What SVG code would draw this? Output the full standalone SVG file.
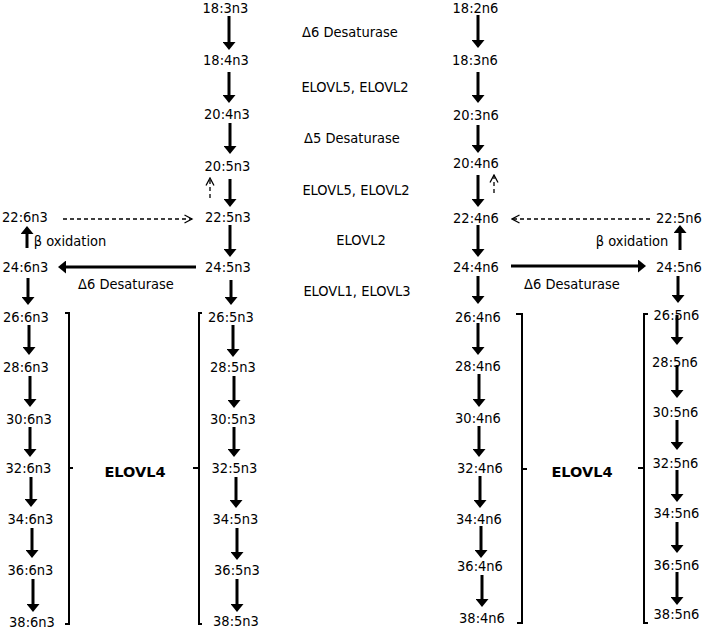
<svg xmlns="http://www.w3.org/2000/svg" width="703" height="631" viewBox="0 0 703 631">
<style>
text{font-family:"DejaVu Sans Condensed","DejaVu Sans",Verdana,sans-serif;font-stretch:condensed;font-size:14.5px;fill:#000;text-anchor:middle}
.b{font-family:"DejaVu Sans",Verdana,sans-serif;font-stretch:normal;font-weight:bold;font-size:14.5px}
.a{stroke:#000;stroke-width:3;fill:none;marker-end:url(#ah)}
.d{stroke:#000;stroke-width:1.3;stroke-dasharray:4 3;fill:none;marker-end:url(#oh)}
.br{stroke:#000;stroke-width:2;fill:none}
</style>
<defs>
<marker id="ah" markerUnits="userSpaceOnUse" viewBox="0 0 8 13" markerWidth="8" markerHeight="13" refX="1" refY="6.5" orient="auto"><path d="M0,0 L8,6.5 L0,13 z" fill="#000"/></marker>
<marker id="oh" markerUnits="userSpaceOnUse" viewBox="0 0 10 10" markerWidth="10" markerHeight="10" refX="8.5" refY="5" orient="auto"><path d="M1,1 L8.5,5 L1,9" fill="none" stroke="#000" stroke-width="1.3"/></marker>
</defs>
<g id="connectors">
<line class="a" x1="229" y1="16" x2="229" y2="43"/>
<line class="a" x1="229" y1="72" x2="229" y2="96"/>
<line class="a" x1="230" y1="123" x2="230" y2="147"/>
<line class="a" x1="230" y1="179" x2="230" y2="200"/>
<line class="a" x1="230" y1="225" x2="230" y2="250"/>
<line class="a" x1="231" y1="280" x2="231" y2="298"/>
<line class="a" x1="233" y1="325" x2="233" y2="350"/>
<line class="a" x1="234" y1="376" x2="234" y2="401"/>
<line class="a" x1="234" y1="427" x2="234" y2="450"/>
<line class="a" x1="236" y1="477" x2="236" y2="501"/>
<line class="a" x1="237" y1="528" x2="237" y2="553"/>
<line class="a" x1="237" y1="579" x2="237" y2="605"/>
<line class="a" x1="478" y1="15" x2="478" y2="41"/>
<line class="a" x1="478" y1="72" x2="478" y2="96"/>
<line class="a" x1="478" y1="125" x2="478" y2="146"/>
<line class="a" x1="478" y1="175" x2="478" y2="200"/>
<line class="a" x1="478" y1="225" x2="478" y2="250"/>
<line class="a" x1="478" y1="276" x2="478" y2="297"/>
<line class="a" x1="478" y1="323" x2="478" y2="348"/>
<line class="a" x1="479" y1="374" x2="479" y2="400"/>
<line class="a" x1="479" y1="426" x2="479" y2="450"/>
<line class="a" x1="480" y1="476" x2="480" y2="501"/>
<line class="a" x1="481" y1="526" x2="481" y2="551"/>
<line class="a" x1="482" y1="575" x2="482" y2="600"/>
<line class="a" x1="27" y1="248" x2="27" y2="233"/>
<line class="a" x1="28" y1="278" x2="28" y2="298"/>
<line class="a" x1="29" y1="325" x2="29" y2="348"/>
<line class="a" x1="30" y1="376" x2="30" y2="400"/>
<line class="a" x1="30" y1="427" x2="30" y2="450"/>
<line class="a" x1="31" y1="477" x2="31" y2="500"/>
<line class="a" x1="32" y1="528" x2="32" y2="551"/>
<line class="a" x1="33" y1="579" x2="33" y2="605"/>
<line class="a" x1="680" y1="250" x2="680" y2="232"/>
<line class="a" x1="678" y1="276" x2="678" y2="296"/>
<line class="a" x1="677" y1="315" x2="677" y2="338"/>
<line class="a" x1="677" y1="365" x2="677" y2="391"/>
<line class="a" x1="677" y1="420" x2="677" y2="443"/>
<line class="a" x1="677" y1="470" x2="677" y2="495"/>
<line class="a" x1="677" y1="522" x2="677" y2="546"/>
<line class="a" x1="677" y1="572" x2="677" y2="598"/>
<line class="a" x1="196" y1="267" x2="65" y2="267"/>
<line class="a" x1="511" y1="266" x2="639" y2="266"/>
<line class="d" x1="63" y1="219" x2="192" y2="219"/>
<line class="d" x1="650" y1="219" x2="512" y2="219"/>
<line class="d" x1="210" y1="198" x2="210" y2="178"/>
<line class="d" x1="494" y1="193" x2="494" y2="175"/>
<path class="br" d="M65,313 H69 V624 H65 M69,468 H73"/>
<path class="br" d="M202,313 H199 V624 H202 M199,468 H193"/>
<path class="br" d="M516,314 H522 V623 H517 M522,469 H527"/>
<path class="br" d="M648,314 H644 V623 H648 M644,468 H638"/>
</g>
<g id="labels">
<text x="350" y="37">Δ6 Desaturase</text>
<text x="355" y="92">ELOVL5, ELOVL2</text>
<text x="352" y="143">Δ5 Desaturase</text>
<text x="356" y="195">ELOVL5, ELOVL2</text>
<text x="361" y="245">ELOVL2</text>
<text x="357" y="296">ELOVL1, ELOVL3</text>
<text x="126" y="289">Δ6 Desaturase</text>
<text x="572" y="289">Δ6 Desaturase</text>
<text x="70" y="246">β oxidation</text>
<text x="632" y="246">β oxidation</text>
<text class="b" x="135" y="477">ELOVL4</text>
<text class="b" x="582" y="477">ELOVL4</text>
</g>
<g id="n3main">
<g id="n18_3n3"><text x="225.5" y="13">18:3n3</text></g>
<g id="n18_4n3"><text x="226" y="65">18:4n3</text></g>
<g id="n20_4n3"><text x="227" y="119">20:4n3</text></g>
<g id="n20_5n3"><text x="227.5" y="171">20:5n3</text></g>
<g id="n22_5n3"><text x="228" y="222">22:5n3</text></g>
<g id="n24_5n3"><text x="228" y="272">24:5n3</text></g>
<g id="n26_5n3"><text x="231" y="322">26:5n3</text></g>
<g id="n28_5n3"><text x="233" y="372">28:5n3</text></g>
<g id="n30_5n3"><text x="233" y="424">30:5n3</text></g>
<g id="n32_5n3"><text x="234.5" y="473">32:5n3</text></g>
<g id="n34_5n3"><text x="235.5" y="524">34:5n3</text></g>
<g id="n36_5n3"><text x="237" y="575">36:5n3</text></g>
<g id="n38_5n3"><text x="236" y="626">38:5n3</text></g>
</g>
<g id="n6main">
<g id="n18_2n6"><text x="475.5" y="13">18:2n6</text></g>
<g id="n18_3n6"><text x="475" y="65">18:3n6</text></g>
<g id="n20_3n6"><text x="476" y="120">20:3n6</text></g>
<g id="n20_4n6"><text x="476" y="168">20:4n6</text></g>
<g id="n22_4n6"><text x="476" y="223">22:4n6</text></g>
<g id="n24_4n6"><text x="476" y="272">24:4n6</text></g>
<g id="n26_4n6"><text x="478" y="322">26:4n6</text></g>
<g id="n28_4n6"><text x="478" y="371">28:4n6</text></g>
<g id="n30_4n6"><text x="478" y="423">30:4n6</text></g>
<g id="n32_4n6"><text x="480" y="473">32:4n6</text></g>
<g id="n34_4n6"><text x="479" y="524">34:4n6</text></g>
<g id="n36_4n6"><text x="480" y="571">36:4n6</text></g>
<g id="n38_4n6"><text x="482" y="623">38:4n6</text></g>
</g>
<g id="n3side">
<g id="n22_6n3"><text x="25" y="222">22:6n3</text></g>
<g id="n24_6n3"><text x="25.5" y="272">24:6n3</text></g>
<g id="n26_6n3"><text x="26" y="322">26:6n3</text></g>
<g id="n28_6n3"><text x="26" y="372">28:6n3</text></g>
<g id="n30_6n3"><text x="29" y="424">30:6n3</text></g>
<g id="n32_6n3"><text x="28.5" y="473">32:6n3</text></g>
<g id="n34_6n3"><text x="30.5" y="524">34:6n3</text></g>
<g id="n36_6n3"><text x="30.5" y="575">36:6n3</text></g>
<g id="n38_6n3"><text x="32" y="627">38:6n3</text></g>
</g>
<g id="n6side">
<g id="n22_5n6"><text x="679" y="223">22:5n6</text></g>
<g id="n24_5n6"><text x="679" y="272">24:5n6</text></g>
<g id="n26_5n6"><text x="676.5" y="320">26:5n6</text></g>
<g id="n28_5n6"><text x="675" y="367">28:5n6</text></g>
<g id="n30_5n6"><text x="675.5" y="417">30:5n6</text></g>
<g id="n32_5n6"><text x="675.5" y="468">32:5n6</text></g>
<g id="n34_5n6"><text x="676.5" y="518">34:5n6</text></g>
<g id="n36_5n6"><text x="676.5" y="570">36:5n6</text></g>
<g id="n38_5n6"><text x="676.5" y="619">38:5n6</text></g>
</g>
</svg>
